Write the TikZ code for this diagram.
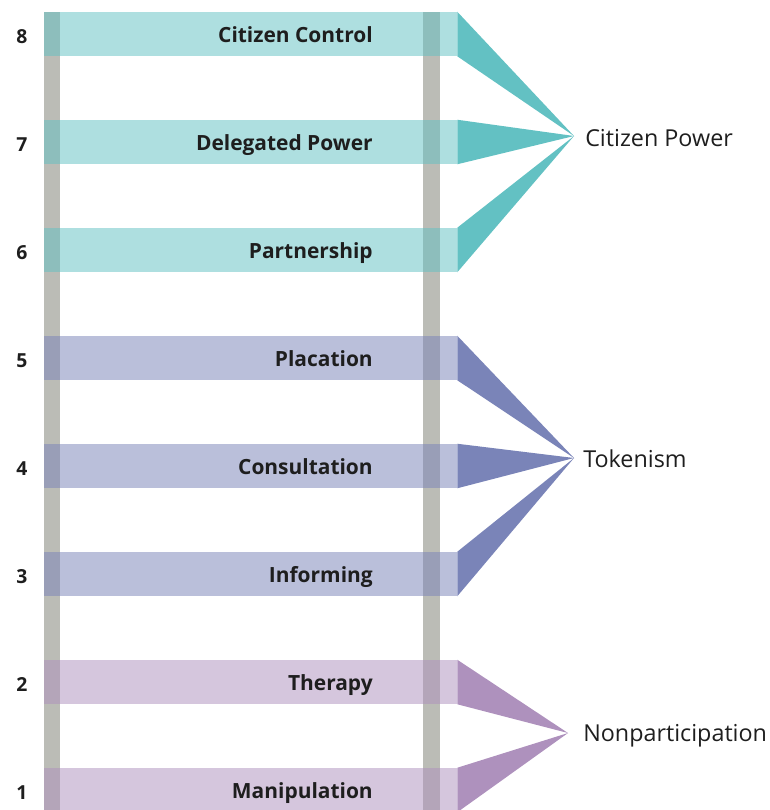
\documentclass[tikz,border=0pt]{standalone}
\usepackage{fontspec}
\setmainfont{Open Sans}
\definecolor{cpteal}{RGB}{99,193,195}
\definecolor{tkblue}{RGB}{122,132,184}
\definecolor{nppurple}{RGB}{174,145,189}
\definecolor{railgray}{RGB}{187,188,182}
\definecolor{inkdark}{RGB}{30,30,30}

\begin{document}
\begin{tikzpicture}[x=0.75pt,y=-0.75pt,
		bar/.style={rectangle,inner sep=0,minimum width=309.75pt,minimum height=33pt,fill opacity=0.52},
		rung/.style={anchor=base east,inner sep=0,text=inkdark,font=\bfseries\fontsize{15.7}{16}\selectfont},
		num/.style={anchor=base,inner sep=0,text=inkdark,font=\bfseries\fontsize{14.5}{15}\selectfont},
		group/.style={anchor=base west,inner sep=0,text=inkdark,font=\fontsize{17.5}{18}\selectfont}]
		\useasboundingbox (0,0) rectangle (770,810);
		% ladder rails
		\fill[railgray] (44,12) rectangle (60,810);
		\fill[railgray] (423,12) rectangle (440,810);
		% rungs
		\node[bar,fill=cpteal] (b8) at (250.5,34) {};
		\node[bar,fill=cpteal] (b7) at (250.5,142) {};
		\node[bar,fill=cpteal] (b6) at (250.5,250) {};
		\node[bar,fill=tkblue] (b5) at (250.5,358) {};
		\node[bar,fill=tkblue] (b4) at (250.5,466) {};
		\node[bar,fill=tkblue] (b3) at (250.5,574) {};
		\node[bar,fill=nppurple] (b2) at (250.5,682) {};
		\node[bar,fill=nppurple] (b1) at (250.5,790) {};
		\node[rung] (l8) at (373,42) {Citizen Control};
		\node[rung] (l7) at (373,150) {Delegated Power};
		\node[rung] (l6) at (373,258) {Partnership};
		\node[rung] (l5) at (373,366) {Placation};
		\node[rung] (l4) at (373,474) {Consultation};
		\node[rung] (l3) at (373,582) {Informing};
		\node[rung] (l2) at (373,690) {Therapy};
		\node[rung] (l1) at (373,798) {Manipulation};
		\node[num] (n8) at (22,43) {8};
		\node[num] (n7) at (22,151) {7};
		\node[num] (n6) at (22,259) {6};
		\node[num] (n5) at (22,367) {5};
		\node[num] (n4) at (22,475) {4};
		\node[num] (n3) at (22,583) {3};
		\node[num] (n2) at (22,691) {2};
		\node[num] (n1) at (22,799) {1};
		% groups and wedges
		\coordinate (cptip) at (574,136);
		\coordinate (tktip) at (574,458);
		\coordinate (nptip) at (568,733);
		\node[group] (cp) at (585,146) {Citizen Power};
		\node[group] (tk) at (583,467) {Tokenism};
		\node[group] (np) at (583,741) {Nonparticipation};
		\fill[cpteal] (b8.north east) -- (b8.south east) -- (cptip) -- cycle;
		\fill[cpteal] (b7.north east) -- (b7.south east) -- (cptip) -- cycle;
		\fill[cpteal] (b6.north east) -- (b6.south east) -- (cptip) -- cycle;
		\fill[tkblue] (b5.north east) -- (b5.south east) -- (tktip) -- cycle;
		\fill[tkblue] (b4.north east) -- (b4.south east) -- (tktip) -- cycle;
		\fill[tkblue] (b3.north east) -- (b3.south east) -- (tktip) -- cycle;
		\fill[nppurple] (b2.north east) -- (b2.south east) -- (nptip) -- cycle;
		\fill[nppurple] (b1.north east) -- (b1.south east) -- (nptip) -- cycle;
\end{tikzpicture}
\end{document}
